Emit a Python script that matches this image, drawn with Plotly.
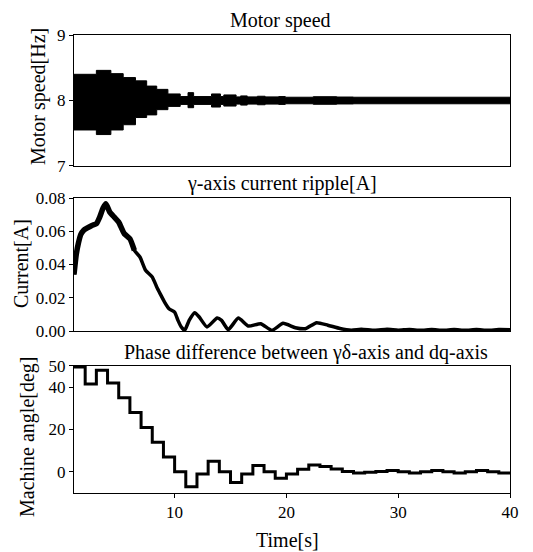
import plotly.graph_objects as go
from plotly.subplots import make_subplots

# ---- Panel 1: motor speed (envelope of the dense oscillation) ----
speed_t = [1.0, 3.0, 4.3, 5.4, 6.5, 7.5, 8.4, 9.4, 10.5, 11.2, 11.7, 13.3, 14.1, 14.4,
           15.5, 15.9, 16.5, 17.4, 18.1, 19.3, 19.9, 22.4, 24.5, 26.0, 40.0]
speed_upper = [8.40, 8.46, 8.41, 8.35, 8.30, 8.22, 8.17, 8.10, 8.06, 8.12, 8.06, 8.10, 8.06, 8.085,
               8.055, 8.07, 8.055, 8.065, 8.055, 8.06, 8.05, 8.058, 8.053, 8.05, 8.05]
speed_lower = [7.55, 7.48, 7.55, 7.63, 7.74, 7.78, 7.86, 7.91, 7.94, 7.89, 7.94, 7.90, 7.94, 7.915,
               7.945, 7.93, 7.945, 7.935, 7.945, 7.94, 7.95, 7.942, 7.947, 7.95, 7.95]

# ---- Panel 2: gamma-axis current ripple ----
cur_t = [1.0, 1.2, 1.4, 1.6, 1.85, 2.2, 2.6, 3.0, 3.3, 3.6, 3.85, 4.2, 4.6, 5.0, 5.5, 6.0,
         6.4, 6.9, 7.4, 8.0, 8.4, 8.7, 9.1, 9.5, 10.0, 10.3, 10.6, 10.9, 11.3, 11.8, 12.2,
         12.9, 13.8, 14.2, 14.8, 15.7, 16.6, 17.7, 18.7, 19.7, 20.8, 21.7, 22.7, 23.7, 24.8,
         25.8, 26.7, 27.9, 29, 30, 31, 32, 33, 34, 35, 36, 37, 38, 39, 40]
cur_a = [0.034, 0.046, 0.053, 0.058, 0.0605, 0.062, 0.0635, 0.0645, 0.0685, 0.074, 0.0765,
         0.0715, 0.0685, 0.0655, 0.0585, 0.0555, 0.0485, 0.0445, 0.0365, 0.0325, 0.0265,
         0.0225, 0.0174, 0.0134, 0.0114, 0.0064, 0.0024, 0.0004, 0.0064, 0.0110, 0.0084,
         0.0024, 0.0078, 0.0064, 0.0008, 0.0078, 0.0030, 0.0044, 0.0004, 0.0046, 0.0020,
         0.0014, 0.0050, 0.0035, 0.0015, 0.0005, 0.0010, 0.0004, 0.0010, 0.0005, 0.0009,
         0.0004, 0.0009, 0.0004, 0.0009, 0.0004, 0.0009, 0.0004, 0.0009, 0.0008]
ripple_band_end = 6.5  # early part of the current trace drawn as a thicker ripple band

# ---- Panel 3: phase difference (step) ----
ang_t = list(range(1, 41))
ang_deg = [49.5, 41.5, 48, 42, 35, 28, 21, 14, 7, 0, -7, -1, 5, 0, -5, -1, 3, 0, -3, -1,
           1.2, 3.2, 2.5, 1.3, 0.2, -0.6, -0.2, 0.2, 0.6, 0, -0.6, 0, 0.6, 0, -0.6, 0,
           0.6, 0, -0.6, -0.6]

titles = ["Motor speed", "\u03b3-axis current ripple[A]",
          "Phase difference between \u03b3\u03b4-axis and dq-axis"]
ylabels = ["Motor speed[Hz]", "Current[A]", "Machine angle[deg]"]
xlabel = "Time[s]"

FONT = "Liberation Serif, Times New Roman, serif"
fig = make_subplots(rows=3, cols=1, shared_xaxes=False)

fig.add_trace(go.Scatter(x=speed_t, y=speed_lower, mode="lines", line=dict(color="black", width=1, shape="hv"),
                         showlegend=False), row=1, col=1)
fig.add_trace(go.Scatter(x=speed_t, y=speed_upper, mode="lines", line=dict(color="black", width=1, shape="hv"),
                         fill="tonexty", fillcolor="black", showlegend=False), row=1, col=1)
fig.add_trace(go.Scatter(x=cur_t, y=cur_a, mode="lines", line=dict(color="black", width=3.5, shape="spline", smoothing=0.5),
                         showlegend=False), row=2, col=1)
band_t = [t for t in cur_t if t <= ripple_band_end]
band_a = cur_a[:len(band_t)]
fig.add_trace(go.Scatter(x=band_t, y=band_a, mode="lines", line=dict(color="black", width=5.5, shape="spline", smoothing=0.5),
                         showlegend=False), row=2, col=1)
fig.add_trace(go.Scatter(x=ang_t, y=ang_deg, mode="lines", line=dict(color="black", width=3, shape="hv"),
                         showlegend=False), row=3, col=1)

axis_common = dict(showline=True, mirror=True, linecolor="black", linewidth=1, showgrid=False,
                   zeroline=False, ticklen=4, tickcolor="black",
                   tickfont=dict(family=FONT, size=17, color="black"))

fig.update_layout(
    width=533, height=552, plot_bgcolor="white", paper_bgcolor="white",
    margin=dict(l=74, r=23, t=35, b=59),
    font=dict(family=FONT, color="black"),
    xaxis=dict(domain=[0, 1], range=[1, 40], showticklabels=False, anchor="y", ticks="", **axis_common),
    xaxis2=dict(domain=[0, 1], range=[1, 40], showticklabels=False, anchor="y2", ticks="", **axis_common),
    xaxis3=dict(domain=[0, 1], range=[1, 40], tickvals=[10, 20, 30, 40], anchor="y3", ticks="outside", **axis_common),
    yaxis=dict(domain=[0.714, 1.0], range=[7, 9], tickvals=[7, 8, 9], anchor="x", ticks="outside", **axis_common),
    yaxis2=dict(domain=[0.3537, 0.6441], range=[0, 0.08], tickvals=[0, 0.02, 0.04, 0.06, 0.08],
                tickformat=".2f", anchor="x2", ticks="outside", **axis_common),
    yaxis3=dict(domain=[0, 0.2773], range=[-10, 50], tickvals=[0, 20, 40, 50], anchor="x3", ticks="outside", **axis_common),
)

def px_x(p):
    return (p - 74) / 436.0

def px_y(p):
    return (493 - p) / 458.0

ann = []
for txt, xp, yp in zip(titles, [280, 282, 306], [20, 183, 352]):
    ann.append(dict(text=txt, x=px_x(xp), y=px_y(yp), xref="paper", yref="paper", showarrow=False,
                    xanchor="center", yanchor="middle", font=dict(family=FONT, size=20, color="black")))
for txt, xp, yp in zip(ylabels, [38, 21, 27], [97, 264, 437]):
    ann.append(dict(text=txt, x=px_x(xp), y=px_y(yp), xref="paper", yref="paper", showarrow=False,
                    textangle=-90, xanchor="center", yanchor="middle", font=dict(family=FONT, size=20, color="black")))
ann.append(dict(text=xlabel, x=px_x(287), y=px_y(540), xref="paper", yref="paper", showarrow=False,
                xanchor="center", yanchor="middle", font=dict(family=FONT, size=20, color="black")))
fig.update_layout(annotations=ann)

fig.write_html("out.html")
